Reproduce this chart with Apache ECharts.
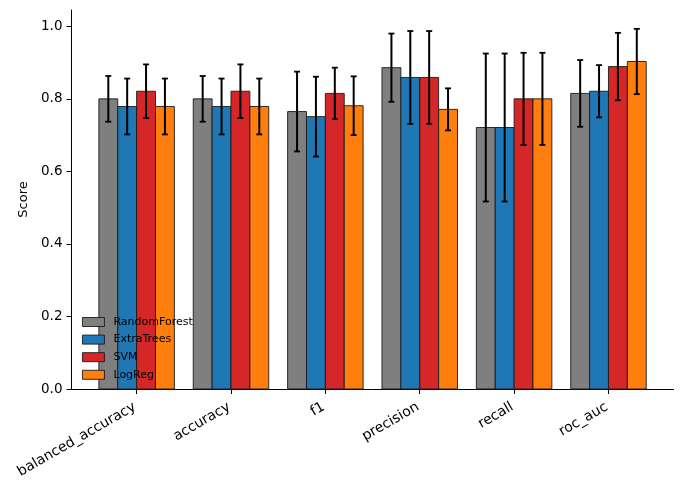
<!DOCTYPE html>
<html>
<head>
<meta charset="utf-8">
<script src="https://cdn.jsdelivr.net/npm/echarts@6/dist/echarts.min.js"></script>
<style>html,body{margin:0;padding:0;background:#fff}#c{width:683px;height:490px}</style>
</head>
<body>
<div id="c"></div>
<script>
var categories = ['balanced_accuracy', 'accuracy', 'f1', 'precision', 'recall', 'roc_auc'];
var modelNames = ['RandomForest', 'ExtraTrees', 'SVM', 'LogReg'];
var modelColors = ['#7f7f7f', '#1f77b4', '#d62728', '#ff7f0e'];

var meanRandomForest = [0.800, 0.800, 0.765, 0.886, 0.721, 0.815];
var meanExtraTrees   = [0.779, 0.779, 0.751, 0.859, 0.721, 0.821];
var meanSVM          = [0.821, 0.821, 0.815, 0.859, 0.800, 0.889];
var meanLogReg       = [0.779, 0.779, 0.781, 0.771, 0.800, 0.903];

var stdRandomForest = [0.063, 0.063, 0.110, 0.094, 0.204, 0.092];
var stdExtraTrees   = [0.077, 0.077, 0.110, 0.128, 0.204, 0.072];
var stdSVM          = [0.074, 0.074, 0.071, 0.128, 0.127, 0.093];
var stdLogReg       = [0.077, 0.077, 0.081, 0.058, 0.127, 0.090];

var yTicks = [0, 0.2, 0.4, 0.6, 0.8, 1.0];
var xTicks = [0, 1, 2, 3, 4, 5];

var means = [meanRandomForest, meanExtraTrees, meanSVM, meanLogReg];
var stds = [stdRandomForest, stdExtraTrees, stdSVM, stdLogReg];

var barW = 0.2;
var FONT = 'DejaVu Sans';

function makeRender(k) {
  return function (params, api) {
    var i = api.value(0), m = api.value(1), s = api.value(2);
    var x0 = i - 0.4 + k * barW;
    var p0 = api.coord([x0, m]);
    var p1 = api.coord([x0 + barW, 0]);
    var xc = x0 + barW / 2;
    var pt = api.coord([xc, m + s]);
    var pb = api.coord([xc, m - s]);
    var cap = 3;
    return {
      type: 'group',
      children: [
        { type: 'rect', shape: { x: p0[0], y: p0[1], width: p1[0] - p0[0], height: p1[1] - p0[1] },
          style: { fill: modelColors[k], stroke: '#1a1a1a', lineWidth: 0.9 } },
        { type: 'line', z2: 10, shape: { x1: pt[0], y1: pt[1], x2: pb[0], y2: pb[1] },
          style: { stroke: '#000', lineWidth: 2 } },
        { type: 'line', z2: 10, shape: { x1: pt[0] - cap, y1: pt[1], x2: pt[0] + cap, y2: pt[1] },
          style: { stroke: '#000', lineWidth: 1.8 } },
        { type: 'line', z2: 10, shape: { x1: pb[0] - cap, y1: pb[1], x2: pb[0] + cap, y2: pb[1] },
          style: { stroke: '#000', lineWidth: 1.8 } }
      ]
    };
  };
}

var series = modelNames.map(function (name, k) {
  return {
    type: 'custom',
    name: name,
    color: modelColors[k],
    itemStyle: { color: modelColors[k] },
    renderItem: makeRender(k),
    encode: { x: 0, y: 1 },
    data: categories.map(function (c, i) { return [i, means[k][i], stds[k][i]]; }),
    animation: false
  };
});

var chart = echarts.init(document.getElementById('c'), null, { renderer: 'canvas' });
chart.setOption({
  animation: false,
  backgroundColor: '#fff',
  textStyle: { fontFamily: FONT },
  grid: { left: 71.5, right: 9.4, top: 10, bottom: 101, containLabel: false },
  legend: {
    orient: 'vertical',
    left: 82,
    top: 316.5,
    padding: 0,
    itemWidth: 22,
    itemHeight: 9,
    itemGap: 6.6,
    icon: 'rect',
    itemStyle: { borderColor: '#1a1a1a', borderWidth: 0.9 },
    textStyle: { fontFamily: FONT, fontSize: 11, color: '#000', lineHeight: 10, padding: [0, 0, 0, 4] },
    data: modelNames
  },
  xAxis: {
    type: 'value',
    min: -0.69,
    max: 5.69,
    splitLine: { show: false },
    axisLine: { show: true, onZero: false, lineStyle: { color: '#000', width: 1 } },
    axisTick: { show: true, customValues: xTicks, length: 5, lineStyle: { color: '#000' } },
    axisLabel: {
      customValues: xTicks,
      rotate: 30,
      margin: 16,
      padding: [0, 2, 0, 0],
      fontFamily: FONT,
      fontSize: 14,
      color: '#000',
      formatter: function (v) { return categories[Math.round(v)]; }
    }
  },
  yAxis: {
    type: 'value',
    min: 0,
    max: 1.045,
    name: 'Score',
    nameLocation: 'middle',
    nameGap: 41,
    nameTextStyle: { fontFamily: FONT, fontSize: 13, color: '#000' },
    splitLine: { show: false },
    axisLine: { show: true, onZero: false, lineStyle: { color: '#000', width: 1 } },
    axisTick: { show: true, customValues: yTicks, length: 5, lineStyle: { color: '#000' } },
    axisLabel: {
      customValues: yTicks,
      margin: 9,
      fontFamily: FONT,
      fontSize: 13.5,
      color: '#000',
      formatter: function (v) { return v.toFixed(1); }
    }
  },
  series: series
});
</script>
</body>
</html>
